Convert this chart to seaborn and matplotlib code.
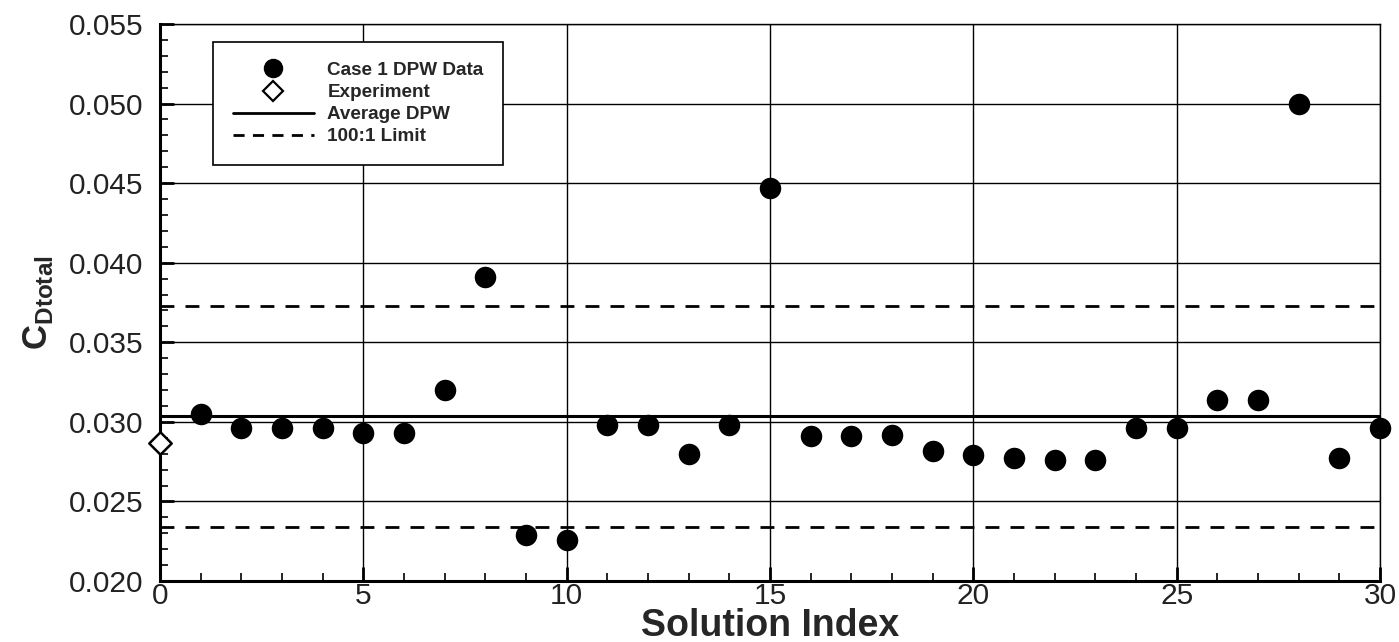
import numpy as np
import pandas as pd
import matplotlib
matplotlib.use("Agg")
import matplotlib.pyplot as plt
from matplotlib.ticker import MultipleLocator
from matplotlib.lines import Line2D
import seaborn as sns

# ---- data ----
solution_index = list(range(1, 31))
cd_total = [0.0305, 0.0296, 0.0296, 0.0296, 0.0293, 0.0293, 0.0320, 0.0391,
            0.0229, 0.0226, 0.0298, 0.0298, 0.0280, 0.0298, 0.0447, 0.0291,
            0.0291, 0.0292, 0.0282, 0.0279, 0.0277, 0.0276, 0.0276, 0.0296,
            0.0296, 0.0314, 0.0314, 0.0500, 0.0277, 0.0296]
experiment_index = [0]
experiment_cd = [0.0287]
average_dpw = 0.03035
limit_upper = 0.0373
limit_lower = 0.0234
legend_labels = ["Case 1 DPW Data", "Experiment", "Average DPW", "100:1 Limit"]

sns.set_style("white")
plt.rcParams['font.family'] = ['Liberation Sans', 'DejaVu Sans']
plt.rcParams['mathtext.fontset'] = 'custom'
plt.rcParams['mathtext.bf'] = 'Liberation Sans:bold'
plt.rcParams['mathtext.rm'] = 'Liberation Sans'

fig = plt.figure(figsize=(13.99, 6.42), dpi=100)
ax = fig.add_axes([0.1144, 0.095, 0.8721, 0.8676])

df = pd.DataFrame({"idx": solution_index, "cd": cd_total})
dfe = pd.DataFrame({"idx": experiment_index, "cd": experiment_cd})

ax.grid(True, which='major', color='black', linewidth=1.0)
ax.set_axisbelow(True)

ax.axhline(average_dpw, color='black', linewidth=2.2, zorder=2)
ax.axhline(limit_upper, color='black', linewidth=2.0, linestyle=(0, (5, 4)), zorder=2)
ax.axhline(limit_lower, color='black', linewidth=2.0, linestyle=(0, (5, 4)), zorder=2)

sns.scatterplot(data=df, x="idx", y="cd", ax=ax, color='black', marker='o',
                s=240, edgecolor='black', linewidth=0, zorder=4, clip_on=False, legend=False)
sns.scatterplot(data=dfe, x="idx", y="cd", ax=ax, marker='D', s=130,
                facecolor='white', edgecolor='black', linewidth=1.8, zorder=5,
                clip_on=False, legend=False)

ax.set_xlim(0, 30)
ax.set_ylim(0.020, 0.055)
ax.xaxis.set_major_locator(MultipleLocator(5))
ax.xaxis.set_minor_locator(MultipleLocator(1))
ax.yaxis.set_major_locator(MultipleLocator(0.005))
ax.yaxis.set_minor_locator(MultipleLocator(0.001))
ax.yaxis.set_major_formatter(matplotlib.ticker.FormatStrFormatter('%.3f'))

for side in ['top', 'right']:
    ax.spines[side].set_linewidth(1.0)
    ax.spines[side].set_color('black')
for side in ['left', 'bottom']:
    ax.spines[side].set_linewidth(2.2)
    ax.spines[side].set_color('black')

ax.tick_params(axis='both', which='major', direction='in', length=10, width=2,
               labelsize=21.5, color='black', labelcolor='#222222',
               left=True, bottom=True)
ax.tick_params(axis='both', which='minor', direction='in', length=6, width=1.2,
               color='black', left=True, bottom=True)
ax.tick_params(axis='x', which='major', pad=0.5)
ax.tick_params(axis='y', which='major', pad=12)

ax.set_xlabel("Solution Index", fontsize=27, fontweight='bold')
ax.xaxis.set_label_coords(0.5, -0.048)
ax.set_ylabel(r"$\mathbf{C}_{\mathbf{Dtotal}}$", fontsize=25)
ax.yaxis.set_label_coords(-0.086, 0.50)

handles = [
    Line2D([], [], color='black', marker='o', linestyle='none', markersize=13),
    Line2D([], [], color='black', marker='D', markerfacecolor='white', linestyle='none',
           markersize=10, markeredgewidth=1.6),
    Line2D([], [], color='black', linewidth=2),
    Line2D([], [], color='black', linewidth=2, linestyle=(0, (4, 3))),
]
leg = ax.legend(handles, legend_labels, loc='upper left', bbox_to_anchor=(0.0434, 0.9677),
                frameon=True, fancybox=False, edgecolor='black', framealpha=1,
                prop={'weight': 'bold', 'size': 13.6}, handlelength=4.3, labelspacing=0.26,
                borderpad=1.05, handletextpad=0.7, borderaxespad=0)
leg.get_frame().set_linewidth(1.2)
leg.set_zorder(10)

fig.savefig("out.png", dpi=100)
